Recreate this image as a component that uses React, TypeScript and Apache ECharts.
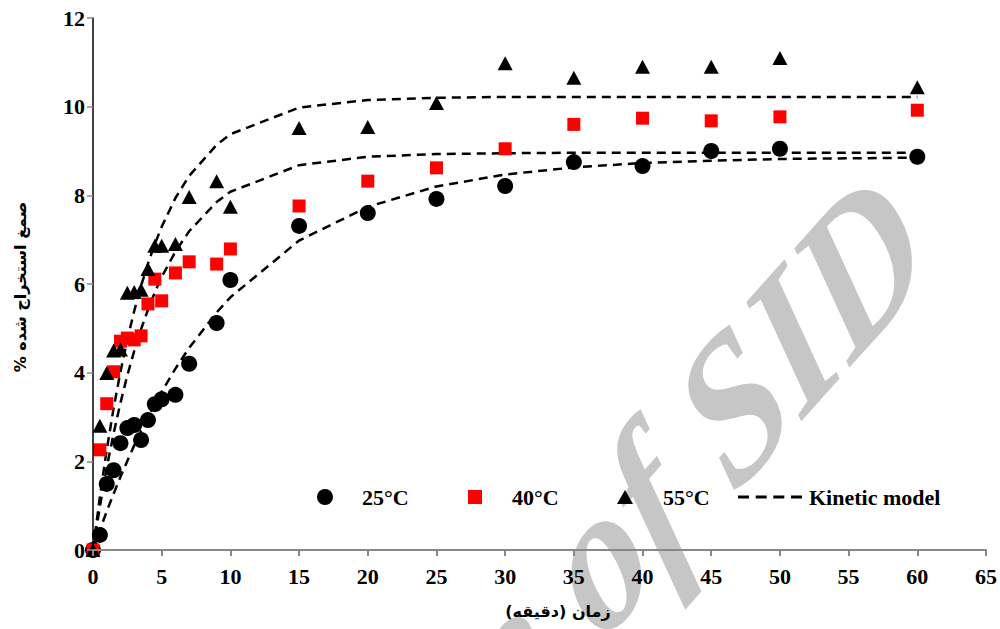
import React, { useEffect, useRef } from "react";
import * as echarts from "echarts";

const times = [0, 0.5, 1, 1.5, 2, 2.5, 3, 3.5, 4, 4.5, 5, 6, 7, 9, 10, 15, 20, 25, 30, 35, 40, 45, 50, 60];

const obs25 = [0, 0.34, 1.49, 1.8, 2.41, 2.75, 2.82, 2.48, 2.93, 3.29, 3.4, 3.5, 4.2, 5.12, 6.09, 7.31, 7.6, 7.92, 8.21, 8.75, 8.66, 9.0, 9.05, 8.87];
const obs40 = [0, 2.26, 3.3, 4.02, 4.71, 4.78, 4.74, 4.83, 5.55, 6.11, 5.62, 6.25, 6.5, 6.45, 6.79, 7.76, 8.32, 8.62, 9.05, 9.6, 9.74, 9.68, 9.77, 9.92];
const obs55 = [0, 2.8, 3.99, 4.5, 4.52, 5.8, 5.82, 5.87, 6.34, 6.86, 6.86, 6.9, 7.96, 8.32, 7.74, 9.52, 9.54, 10.08, 10.98, 10.65, 10.9, 10.9, 11.1, 10.44];

const model25 = [0, 0.45, 0.87, 1.27, 1.65, 2.01, 2.36, 2.69, 3.0, 3.29, 3.57, 4.09, 4.56, 5.36, 5.7, 6.98, 7.74, 8.2, 8.47, 8.63, 8.73, 8.78, 8.82, 8.85];
const model40 = [0, 0.98, 1.86, 2.63, 3.32, 3.94, 4.49, 4.98, 5.42, 5.81, 6.16, 6.73, 7.19, 7.85, 8.08, 8.68, 8.87, 8.93, 8.95, 8.96, 8.96, 8.96, 8.96, 8.96];
const model55 = [0, 1.2, 2.26, 3.2, 4.02, 4.75, 5.39, 5.96, 6.46, 6.9, 7.29, 7.94, 8.44, 9.14, 9.38, 9.98, 10.15, 10.2, 10.22, 10.22, 10.22, 10.22, 10.22, 10.22];

const xTicks = { min: 0, max: 65, interval: 5 };
const yTicks = { min: 0, max: 12, interval: 2 };

const RLM = "\u200F";
const xTitle = "زمان (دقیقه)";
const yTitle = "صمغ استخراج شده %";
const watermark = "Archive of SID";
const legendNames = ["25°C", "40°C", "55°C", "Kinetic model"];

const pairs = (xs: number[], ys: number[]) => xs.map((x, i) => [x, ys[i]]);

export default function App() {
  const ref = useRef<HTMLDivElement>(null);
  useEffect(() => {
    if (!ref.current) return;
    const chart = echarts.init(ref.current, null, { renderer: "svg" });
    const serif = "'Liberation Serif', 'Times New Roman', serif";
    const arabic = "'DejaVu Sans', sans-serif";
    const legendText = { fontFamily: serif, fontWeight: "bold", fontSize: 22, color: "#000" };
    const modelLine = { color: "#000", width: 2.5, type: [9, 6] as any };
    const dashIcon = "path://M0,0h11v3h-11z M17.7,0h11v3h-11z M35.3,0h11v3h-11z M53,0h11v3h-11z";
    chart.setOption({
      animation: false,
      backgroundColor: "#fff",
      grid: { left: 93, right: 13, top: 18, bottom: 79 },
      xAxis: {
        type: "value",
        min: xTicks.min,
        max: xTicks.max,
        interval: xTicks.interval,
        axisLine: { show: true, lineStyle: { color: "#888", width: 2 } },
        axisTick: { show: true, length: 6, lineStyle: { color: "#888", width: 2 } },
        splitLine: { show: false },
        axisLabel: { fontFamily: serif, fontWeight: "bold", fontSize: 22, color: "#000", margin: 15 },
        z: 5,
      },
      yAxis: {
        type: "value",
        min: yTicks.min,
        max: yTicks.max,
        interval: yTicks.interval,
        axisLine: { show: true, lineStyle: { color: "#000", width: 1.5 } },
        axisTick: { show: true, length: 6, lineStyle: { color: "#888", width: 1.5 } },
        splitLine: { show: false },
        axisLabel: { fontFamily: serif, fontWeight: "bold", fontSize: 22, color: "#000", margin: 8 },
        z: 5,
      },
      legend: [
        { left: 312, top: 481, data: [legendNames[0]], icon: "circle", itemWidth: 16, itemHeight: 16, textStyle: { ...legendText, padding: [0, 0, 0, 24] }, z: 6 },
        { left: 463, top: 481, data: [legendNames[1]], icon: "rect", itemWidth: 14, itemHeight: 14, textStyle: { ...legendText, padding: [0, 0, 0, 25] }, z: 6 },
        { left: 612, top: 481, data: [legendNames[2]], icon: "triangle", itemWidth: 16, itemHeight: 14, textStyle: { ...legendText, padding: [0, 0, 0, 25] }, z: 6 },
        { left: 733, top: 481, data: [legendNames[3]], icon: dashIcon, symbolKeepAspect: false, itemWidth: 64, itemHeight: 3, itemStyle: { color: "#000", borderWidth: 0 }, textStyle: { ...legendText, padding: [0, 0, 0, 2] }, z: 6 },
      ],
      graphic: [
        {
          type: "text",
          x: 903,
          y: 214,
          rotation: 0.84,
          skewX: -0.25,
          z: -10,
          silent: true,
          style: {
            text: watermark,
            fontFamily: "Liberation Serif",
            fontStyle: "italic",
            fontWeight: "bold",
            fontSize: 184,
            fill: "#c6c6c6",
            textAlign: "right",
            textVerticalAlign: "middle",
          },
        },
        {
          type: "text",
          x: 558,
          y: 611,
          z: 10,
          style: { text: RLM + xTitle + RLM, fontFamily: arabic, fontWeight: "bold", fontSize: 16, fill: "#000", textAlign: "center", textVerticalAlign: "middle" },
        },
        {
          type: "text",
          x: 20,
          y: 287,
          rotation: Math.PI / 2,
          z: 10,
          style: { text: RLM + yTitle + RLM, fontFamily: arabic, fontWeight: "bold", fontSize: 16, fill: "#000", textAlign: "center", textVerticalAlign: "middle" },
        },
      ],
      series: [
        { name: "Kinetic model", type: "line", data: pairs(times, model25), showSymbol: false, symbol: "none", lineStyle: modelLine, itemStyle: { color: "#000" }, z: 2 },
        { name: "Kinetic model", type: "line", data: pairs(times, model40), showSymbol: false, symbol: "none", lineStyle: modelLine, itemStyle: { color: "#000" }, z: 2 },
        { name: "Kinetic model", type: "line", data: pairs(times, model55), showSymbol: false, symbol: "none", lineStyle: modelLine, itemStyle: { color: "#000" }, z: 2 },
        { name: legendNames[0], type: "scatter", data: pairs(times, obs25), symbol: "circle", symbolSize: 16, itemStyle: { color: "#000", opacity: 1 }, z: 3 },
        { name: legendNames[1], type: "scatter", data: pairs(times, obs40), symbol: "rect", symbolSize: 13, itemStyle: { color: "#ff0000", opacity: 1 }, z: 3 },
        { name: legendNames[2], type: "scatter", data: pairs(times, obs55), symbol: "triangle", symbolSize: [15, 14], itemStyle: { color: "#000", opacity: 1 }, z: 3 },
      ],
    });
    return () => chart.dispose();
  }, []);
  return <div ref={ref} style={{ width: 1000, height: 629, position: "absolute", left: 0, top: 0 }} />;
}
